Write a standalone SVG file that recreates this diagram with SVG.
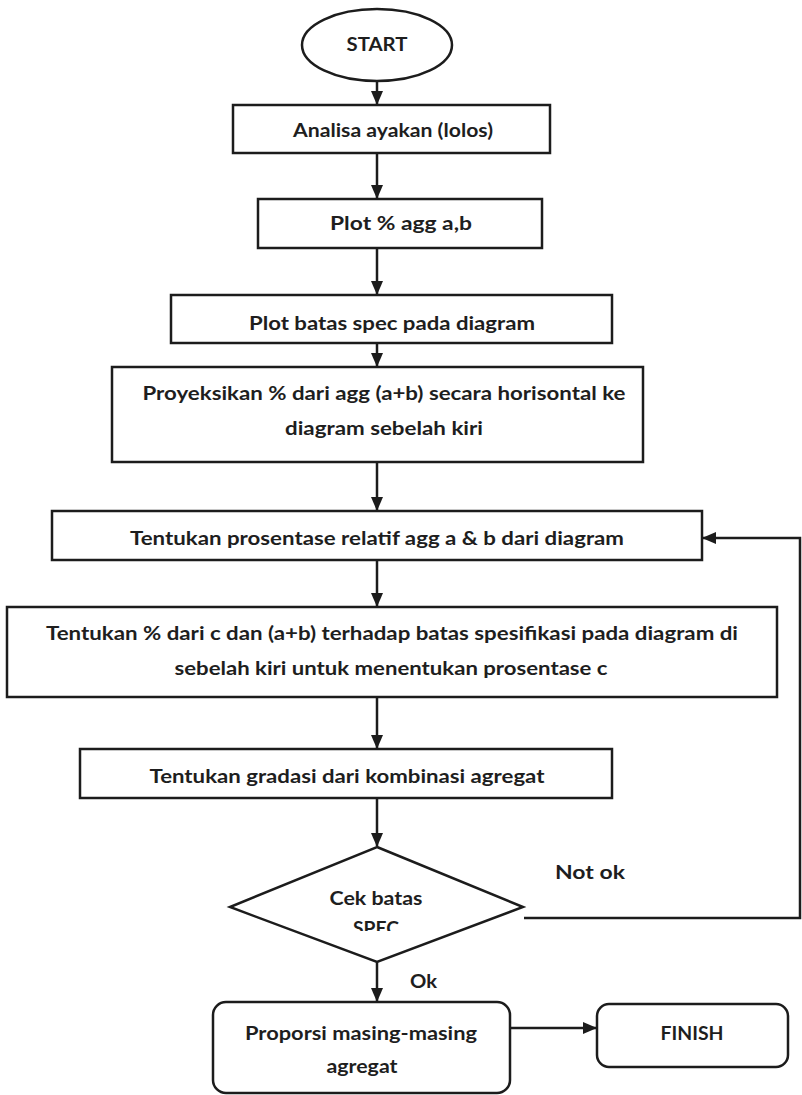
<svg xmlns="http://www.w3.org/2000/svg" width="802" height="1095" viewBox="0 0 802 1095">
<style>
.n{fill:#fff;stroke:#1c1c1c;stroke-width:2.5}
.t{font-family:Lato,"Liberation Sans",sans-serif;font-weight:bold;font-size:18px;fill:#1e1e1e}
.c{fill:none;stroke:#1c1c1c;stroke-width:2.5}
</style>
<defs>
<marker id="ah" markerWidth="14" markerHeight="12" refX="13" refY="6" orient="auto" markerUnits="userSpaceOnUse">
<path d="M0,0 L14,6 L0,12 Z" fill="#1c1c1c"/>
</marker>
<clipPath id="spec"><rect x="300" y="900" width="160" height="31"/></clipPath>
</defs>
<rect width="802" height="1095" fill="#fff"/>
<g id="connectors">
<path class="c" d="M377,82 V104" marker-end="url(#ah)"/>
<path class="c" d="M377,153 V198" marker-end="url(#ah)"/>
<path class="c" d="M377,248 V294" marker-end="url(#ah)"/>
<path class="c" d="M377,343 V366" marker-end="url(#ah)"/>
<path class="c" d="M377,462 V510" marker-end="url(#ah)"/>
<path class="c" d="M377,560 V606" marker-end="url(#ah)"/>
<path class="c" d="M377,697 V748" marker-end="url(#ah)"/>
<path class="c" d="M377,798 V846" marker-end="url(#ah)"/>
<path class="c" d="M377,962 V1001" marker-end="url(#ah)"/>
<path class="c" d="M510,1028 H596" marker-end="url(#ah)"/>
<path class="c" d="M524,918 H800 V538 H703" marker-end="url(#ah)"/>
</g>
<g id="start">
<ellipse class="n" cx="377" cy="45" rx="75" ry="36"/>
<text class="t" x="377" y="51" text-anchor="middle" textLength="61" lengthAdjust="spacingAndGlyphs">START</text>
</g>
<g id="n1">
<rect class="n" x="233" y="105" width="317" height="48"/>
<text class="t" x="393" y="137" text-anchor="middle" textLength="200" lengthAdjust="spacingAndGlyphs">Analisa ayakan (lolos)</text>
</g>
<g id="n2">
<rect class="n" x="258" y="199" width="284" height="49"/>
<text class="t" x="401" y="230" text-anchor="middle" textLength="142" lengthAdjust="spacingAndGlyphs">Plot %  agg a,b</text>
</g>
<g id="n3">
<rect class="n" x="171" y="295" width="441" height="48"/>
<text class="t" x="392" y="330" text-anchor="middle" textLength="286" lengthAdjust="spacingAndGlyphs">Plot batas spec pada diagram</text>
</g>
<g id="n4">
<rect class="n" x="112" y="367" width="531" height="95"/>
<text class="t" x="384" y="400" text-anchor="middle" textLength="483" lengthAdjust="spacingAndGlyphs">Proyeksikan % dari agg (a+b) secara horisontal  ke</text>
<text class="t" x="384" y="435" text-anchor="middle" textLength="198" lengthAdjust="spacingAndGlyphs">diagram sebelah kiri</text>
</g>
<g id="n5">
<rect class="n" x="52" y="511" width="650" height="49"/>
<text class="t" x="377" y="545" text-anchor="middle" textLength="494" lengthAdjust="spacingAndGlyphs">Tentukan prosentase relatif agg a &amp; b dari diagram</text>
</g>
<g id="n6">
<rect class="n" x="7" y="607" width="770" height="90"/>
<text class="t" x="392" y="640" text-anchor="middle" textLength="692" lengthAdjust="spacingAndGlyphs">Tentukan % dari c dan (a+b) terhadap batas spesifikasi pada diagram di</text>
<text class="t" x="391" y="675" text-anchor="middle" textLength="433" lengthAdjust="spacingAndGlyphs">sebelah kiri untuk menentukan prosentase c</text>
</g>
<g id="n7">
<rect class="n" x="80" y="749" width="532" height="49"/>
<text class="t" x="347" y="783" text-anchor="middle" textLength="395" lengthAdjust="spacingAndGlyphs">Tentukan gradasi dari kombinasi agregat</text>
</g>
<g id="decision">
<path class="n" d="M377,847 L523,907 L377,962 L230,907 Z"/>
<text class="t" x="376" y="905" text-anchor="middle" textLength="93" lengthAdjust="spacingAndGlyphs">Cek batas</text>
<text class="t" x="376" y="935" text-anchor="middle" clip-path="url(#spec)" textLength="46" lengthAdjust="spacingAndGlyphs">SPEC</text>
</g>
<g id="labels">
<text class="t" x="555" y="879" textLength="70" lengthAdjust="spacingAndGlyphs">Not  ok</text>
<text class="t" x="410" y="988" textLength="27" lengthAdjust="spacingAndGlyphs">Ok</text>
</g>
<g id="n8">
<rect class="n" x="213" y="1002" width="297" height="91" rx="13"/>
<text class="t" x="361" y="1040" text-anchor="middle" textLength="232" lengthAdjust="spacingAndGlyphs">Proporsi masing-masing</text>
<text class="t" x="362" y="1073" text-anchor="middle" textLength="71" lengthAdjust="spacingAndGlyphs">agregat</text>
</g>
<g id="finish">
<rect class="n" x="597" y="1004" width="191" height="63" rx="12"/>
<text class="t" x="692" y="1040" text-anchor="middle" textLength="63" lengthAdjust="spacingAndGlyphs">FINISH</text>
</g>
</svg>
